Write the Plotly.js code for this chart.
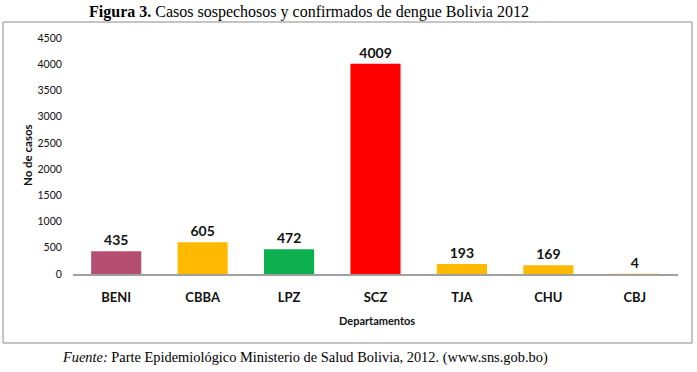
<!DOCTYPE html>
<html>
<head>
<meta charset="utf-8">
<script src="https://cdn.plot.ly/plotly-3.0.1.min.js"></script>
<style>
html,body{margin:0;padding:0;background:#fff;}
#chart{width:697px;height:372px;}
</style>
</head>
<body>
<div id="chart"></div>
<script>
var categories = ["BENI", "CBBA", "LPZ", "SCZ", "TJA", "CHU", "CBJ"];
var casos = [435, 605, 472, 4009, 193, 169, 4];
var barColors = ["#B44F72", "#FFBA00", "#0DB04E", "#FF0000", "#FFBA00", "#FFBA00", "#FFBA00"];
var yTicks = [0, 500, 1000, 1500, 2000, 2500, 3000, 3500, 4000, 4500];

var trace = {
  type: "bar",
  x: categories,
  y: casos,
  width: 0.58,
  marker: {color: barColors, line: {width: 0}},
  text: casos.map(String),
  textposition: "outside",
  cliponaxis: false,
  textfont: {family: "Lato, 'Open Sans', sans-serif", size: 14, color: "#111", weight: "bold"},
  hoverinfo: "skip"
};

var W = 605, H = 236, L = 73, T = 38;
function px(x){ return (x - L) / W; }
function py(y){ return (T + H - y) / H; }

var layout = {
  width: 697, height: 372,
  margin: {l: 73, r: 19, t: 38, b: 98, pad: 0},
  paper_bgcolor: "#fff", plot_bgcolor: "#fff",
  showlegend: false,
  title: {
    text: "<b>Figura 3.</b> Casos sospechosos y confirmados de dengue Bolivia 2012",
    font: {family: "'Liberation Serif', 'DejaVu Serif', serif", size: 16, color: "#000"},
    xref: "container", x: 309/697, xanchor: "center",
    yref: "container", y: 1 - 11/372, yanchor: "middle"
  },
  xaxis: {
    showline: true, linecolor: "#A0A0A0", linewidth: 1.5,
    ticks: "outside", ticklen: 11, tickcolor: "rgba(0,0,0,0)",
    tickfont: {family: "Lato, 'Open Sans', sans-serif", size: 13, color: "#111", weight: "bold"},
    showgrid: false, zeroline: false, fixedrange: true
  },
  yaxis: {
    range: [0, 4500],
    tickvals: yTicks,
    ticktext: yTicks.map(String),
    showline: false, showgrid: false, zeroline: false,
    ticks: "outside", ticklen: 8, tickcolor: "rgba(0,0,0,0)",
    tickfont: {family: "Lato, 'Open Sans', sans-serif", size: 10.5, color: "#111"},
    fixedrange: true
  },
  annotations: [
    {text: "No de casos", xref: "paper", yref: "paper", x: px(27), y: py(155),
     textangle: -90, showarrow: false, xanchor: "center", yanchor: "middle",
     font: {family: "Lato, 'Open Sans', sans-serif", size: 11.5, color: "#111", weight: "bold"}},
    {text: "Departamentos", xref: "paper", yref: "paper", x: px(377), y: py(320),
     showarrow: false, xanchor: "center", yanchor: "middle",
     font: {family: "Lato, 'Open Sans', sans-serif", size: 11, color: "#111", weight: "bold"}},
    {text: "<i>Fuente:</i> Parte Epidemiológico Ministerio de Salud Bolivia, 2012. (www.sns.gob.bo)",
     xref: "paper", yref: "paper", x: px(305), y: py(357),
     showarrow: false, xanchor: "center", yanchor: "middle",
     font: {family: "'Liberation Serif', 'DejaVu Serif', serif", size: 14.4, color: "#000"}}
  ],
  shapes: [
    {type: "rect", xref: "paper", yref: "paper",
     x0: px(3), x1: px(692), y0: py(343), y1: py(22),
     line: {color: "#8A8A8A", width: 1}, fillcolor: "rgba(0,0,0,0)", layer: "below"}
  ]
};

Plotly.newPlot("chart", [trace], layout, {displayModeBar: false, staticPlot: true});
</script>
</body>
</html>
